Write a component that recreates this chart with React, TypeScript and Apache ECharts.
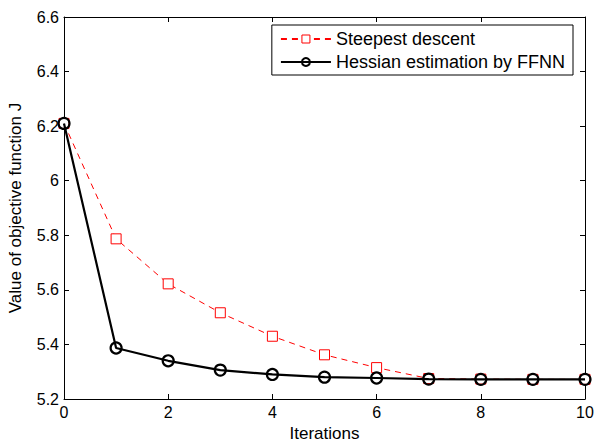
import React, { useEffect, useRef } from "react";
import * as echarts from "echarts";

const iterations = [0, 1, 2, 3, 4, 5, 6, 7, 8, 9, 10];
const steepest = [6.21, 5.787, 5.622, 5.516, 5.43, 5.362, 5.315, 5.275, 5.273, 5.272, 5.272];
const hessian = [6.21, 5.387, 5.34, 5.306, 5.29, 5.28, 5.277, 5.273, 5.272, 5.272, 5.272];
const seriesNames = ["Steepest descent", "Hessian estimation by FFNN"];

export default function App() {
  const ref = useRef<HTMLDivElement>(null);
  useEffect(() => {
    const chart = echarts.init(ref.current!, null, { renderer: "svg" });
    const font = "Liberation Sans, Arial, sans-serif";
    const axisCommon = {
      axisLine: { show: true, onZero: false, lineStyle: { color: "#000", width: 1 } },
      axisTick: { show: true, inside: true, length: 5, lineStyle: { color: "#000" } },
      splitLine: { show: false },
    };
    chart.setOption({
      animation: false,
      backgroundColor: "#fff",
      grid: { left: 64, right: 9, top: 17, bottom: 43, containLabel: false, outerBoundsMode: "none" },
      legend: {
        right: 21,
        top: 25,
        orient: "vertical",
        itemGap: 3,
        itemWidth: 50,
        itemHeight: 10,
        padding: [4, 8, 3, 8],
        borderColor: "#000",
        borderWidth: 1,
        backgroundColor: "#fff",
        textStyle: { fontFamily: font, fontSize: 18, color: "#000", lineHeight: 20 },
        data: [
          { name: seriesNames[0], itemStyle: { borderWidth: 1 } },
          { name: seriesNames[1], lineStyle: { width: 2.2 }, itemStyle: { borderWidth: 2 } },
        ],
      },
      xAxis: [
        {
          type: "value",
          min: 0,
          max: 10,
          interval: 2,
          name: "Iterations",
          nameLocation: "middle",
          nameGap: 25,
          nameTextStyle: { fontFamily: font, fontSize: 17, color: "#000" },
          axisLabel: { fontFamily: font, fontSize: 16, color: "#000", margin: 5 },
          ...axisCommon,
        },
        {
          type: "value",
          position: "top",
          min: 0,
          max: 10,
          interval: 2,
          axisLabel: { show: false },
          ...axisCommon,
        },
      ],
      yAxis: [
        {
          type: "value",
          min: 5.2,
          max: 6.6,
          interval: 0.2,
          name: "Value of objective function J",
          nameLocation: "middle",
          nameGap: 40,
          nameTextStyle: { fontFamily: font, fontSize: 17, color: "#000" },
          axisLabel: {
            fontFamily: font,
            fontSize: 16,
            color: "#000",
            margin: 5,
            formatter: (v: number) => String(parseFloat(v.toFixed(1))),
          },
          ...axisCommon,
        },
        {
          type: "value",
          position: "right",
          min: 5.2,
          max: 6.6,
          interval: 0.2,
          axisLabel: { show: false },
          ...axisCommon,
        },
      ],
      series: [
        {
          name: seriesNames[0],
          type: "line",
          data: iterations.map((x, i) => [x, steepest[i]]),
          symbol: "rect",
          symbolSize: 10,
          showAllSymbol: true,
          lineStyle: { color: "#ff0000", width: 1, type: [6, 5] },
          itemStyle: { color: "#fff", borderColor: "#ff0000", borderWidth: 1 },
          z: 2,
        },
        {
          name: seriesNames[1],
          type: "line",
          data: iterations.map((x, i) => [x, hessian[i]]),
          symbol: "circle",
          symbolSize: 11,
          showAllSymbol: true,
          lineStyle: { color: "#000", width: 2.2 },
          itemStyle: { color: "rgba(255,255,255,0)", borderColor: "#000", borderWidth: 2.2 },
          z: 3,
        },
      ],
    });
    return () => chart.dispose();
  }, []);
  return <div ref={ref} style={{ width: 594, height: 442, position: "absolute", left: 0, top: 0 }} />;
}
